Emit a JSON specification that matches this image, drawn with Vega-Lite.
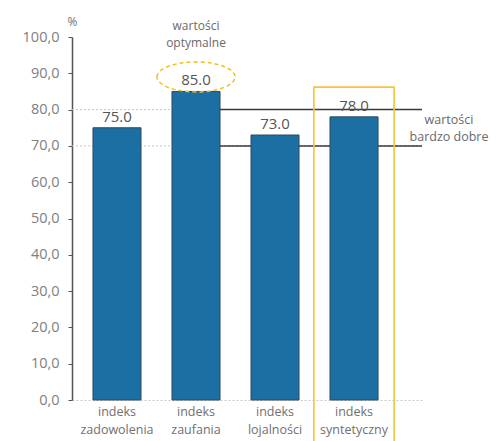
{
  "$schema": "https://vega.github.io/schema/vega-lite/v6.json",
  "width": 350,
  "height": 363,
  "autosize": {"type": "none"},
  "padding": {"left": 72, "top": 37, "right": 81, "bottom": 41},
  "background": "white",
  "config": {
    "view": {"stroke": null},
    "font": "Open Sans",
    "axisX": {
      "labelExpr": "split(datum.label, ' ')",
      "labelFontSize": 12.5,
      "labelColor": "#707070",
      "labelLineHeight": 18,
      "labelPadding": 5,
      "ticks": false,
      "domainColor": "#c8c8c8",
      "domainDash": [2, 2],
      "labelAngle": 0
    },
    "axisY": {
      "labelExpr": "replace(format(datum.value, '.1f'), '.', ',')",
      "labelFontSize": 14.5,
      "labelColor": "#808080",
      "labelPadding": 9,
      "tickColor": "#555555",
      "tickSize": 4,
      "domainColor": "#555555",
      "domainWidth": 1.5,
      "grid": false,
      "tickCount": 10,
      "titleAngle": 0,
      "titleAlign": "center",
      "titleBaseline": "alphabetic",
      "titleX": 0,
      "titleY": -12,
      "titleFontSize": 12,
      "titleFontWeight": "normal",
      "titleColor": "#707070"
    }
  },
  "datasets": {
    "indeksy": [
      {"indeks": "indeks zadowolenia", "wartosc": 75},
      {"indeks": "indeks zaufania", "wartosc": 85},
      {"indeks": "indeks lojalności", "wartosc": 73},
      {"indeks": "indeks syntetyczny", "wartosc": 78}
    ],
    "progi": [{"prog": 70}, {"prog": 80}]
  },
  "layer": [
    {
      "data": {"name": "progi"},
      "mark": {"type": "rule", "color": "#c4c4c4", "strokeDash": [2, 2], "strokeWidth": 1},
      "encoding": {
        "y": {"field": "prog", "type": "quantitative", "title": "%"}
      }
    },
    {
      "data": {"name": "progi"},
      "mark": {"type": "rule", "color": "#3a3a3a", "strokeWidth": 1.5},
      "encoding": {
        "x": {"datum": "indeks zaufania", "type": "nominal"},
        "x2": {"value": "width"},
        "y": {"field": "prog", "type": "quantitative", "title": "%"}
      }
    },
    {
      "data": {"values": [{"indeks": "indeks syntetyczny", "gora": 86.2, "dol": -16}]},
      "mark": {"type": "bar", "fill": null, "fillOpacity": 0, "stroke": "#f6c43a", "strokeWidth": 1.6, "width": {"band": 1.67}},
      "encoding": {
        "x": {"field": "indeks", "type": "nominal", "title": null},
        "y": {"field": "gora", "type": "quantitative", "title": "%"},
        "y2": {"field": "dol"}
      }
    },
    {
      "data": {"name": "indeksy"},
      "mark": {"type": "bar", "color": "#1b6fa2", "stroke": "#34495a", "strokeWidth": 1},
      "encoding": {
        "x": {
          "field": "indeks",
          "type": "nominal",
          "title": null,
          "sort": null,
          "scale": {
            "domain": ["indeks zadowolenia", "indeks zaufania", "indeks lojalności", "indeks syntetyczny"],
            "paddingInner": 0.392,
            "paddingOuter": 0.411,
            "align": 0.323
          }
        },
        "y": {
          "field": "wartosc",
          "type": "quantitative",
          "title": "%",
          "scale": {"domain": [0, 100], "nice": false}
        }
      }
    },
    {
      "data": {"name": "indeksy"},
      "mark": {"type": "text", "baseline": "bottom", "dy": -3, "fontSize": 15, "color": "#555555"},
      "encoding": {
        "x": {"field": "indeks", "type": "nominal", "title": null},
        "y": {"field": "wartosc", "type": "quantitative", "title": "%"},
        "text": {"field": "wartosc", "type": "quantitative", "format": ".1f"}
      }
    },
    {
      "data": {"values": [{"indeks": "indeks zaufania", "poziom": 89}]},
      "mark": {
        "type": "point",
        "shape": "M-1,0A1,0.385,0,1,1,1,0A1,0.385,0,1,1,-1,0Z",
        "size": 6084,
        "filled": false,
        "stroke": "#f2bf1f",
        "strokeWidth": 1.5,
        "strokeDash": [4, 3],
        "opacity": 1
      },
      "encoding": {
        "x": {"field": "indeks", "type": "nominal", "title": null},
        "y": {"field": "poziom", "type": "quantitative", "title": "%"}
      }
    },
    {
      "data": {"values": [{"indeks": "indeks zaufania", "poziom": 103, "opis": "wartości\noptymalne"}]},
      "mark": {"type": "text", "baseline": "middle", "lineBreak": "\n", "lineHeight": 17, "fontSize": 12, "color": "#6a6a6a"},
      "encoding": {
        "x": {"field": "indeks", "type": "nominal", "title": null},
        "y": {"field": "poziom", "type": "quantitative", "title": "%"},
        "text": {"field": "opis"}
      }
    },
    {
      "data": {"values": [{"indeks": "indeks syntetyczny", "poziom": 77.2, "opis": "wartości\nbardzo dobre"}]},
      "mark": {"type": "text", "baseline": "middle", "dx": 95, "lineBreak": "\n", "lineHeight": 17, "fontSize": 12.5, "color": "#6a6a6a"},
      "encoding": {
        "x": {"field": "indeks", "type": "nominal", "title": null},
        "y": {"field": "poziom", "type": "quantitative", "title": "%"},
        "text": {"field": "opis"}
      }
    }
  ]
}
